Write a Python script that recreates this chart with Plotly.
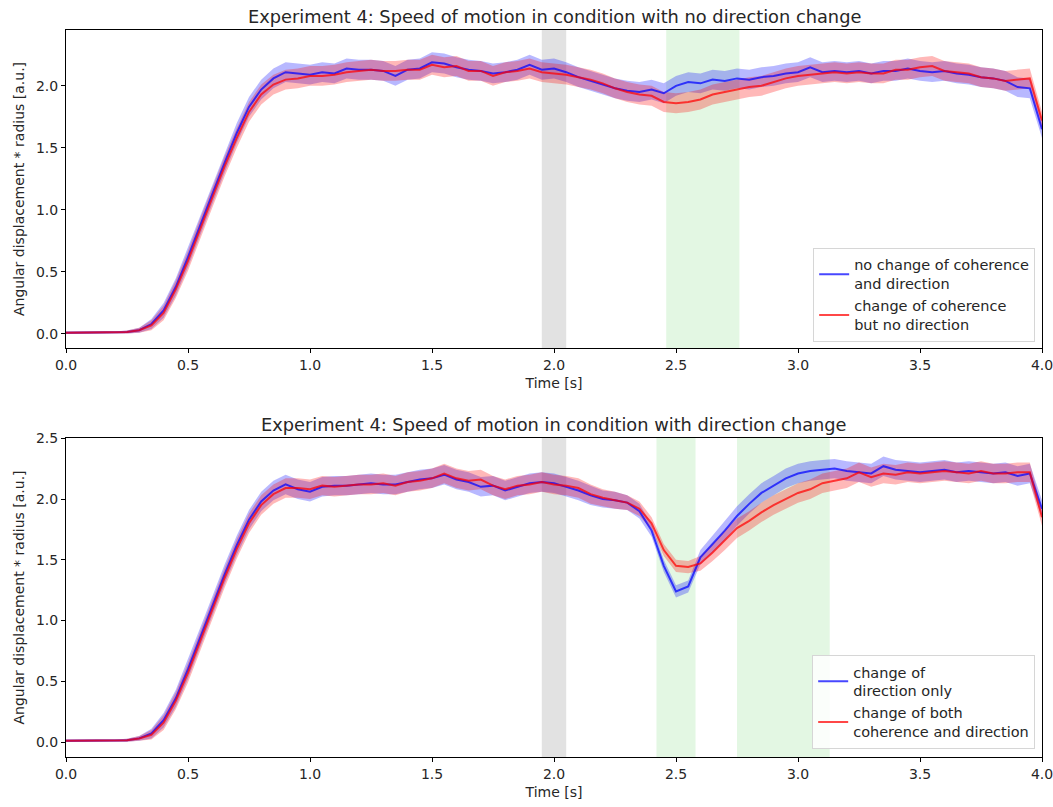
import plotly.graph_objects as go

# ---------------- data ----------------
time_s = [round(i * 0.05, 2) for i in range(81)]

top_no_change = [0.01, 0.01, 0.01, 0.01, 0.01, 0.015, 0.03, 0.08, 0.19, 0.38,
                 0.62, 0.88, 1.13, 1.38, 1.62, 1.83, 1.97, 2.06, 2.11, 2.10,
                 2.09, 2.11, 2.10, 2.14, 2.13, 2.13, 2.12, 2.08, 2.13, 2.14,
                 2.19, 2.18, 2.15, 2.13, 2.12, 2.10, 2.11, 2.13, 2.17, 2.13,
                 2.14, 2.11, 2.07, 2.04, 2.01, 1.98, 1.96, 1.95, 1.97, 1.94,
                 2.00, 2.03, 2.02, 2.05, 2.04, 2.06, 2.05, 2.07, 2.08, 2.10,
                 2.11, 2.15, 2.11, 2.12, 2.11, 2.12, 2.10, 2.12, 2.12, 2.14,
                 2.12, 2.11, 2.12, 2.10, 2.09, 2.07, 2.06, 2.04, 1.99, 1.98,
                 1.65]
top_coh_change = [0.01, 0.01, 0.01, 0.01, 0.01, 0.015, 0.03, 0.07, 0.17, 0.36,
                  0.59, 0.85, 1.10, 1.35, 1.58, 1.79, 1.93, 2.01, 2.05, 2.06,
                  2.08, 2.08, 2.09, 2.11, 2.12, 2.13, 2.12, 2.12, 2.13, 2.13,
                  2.17, 2.15, 2.16, 2.12, 2.12, 2.08, 2.11, 2.12, 2.14, 2.11,
                  2.10, 2.09, 2.07, 2.05, 2.02, 1.98, 1.95, 1.93, 1.92, 1.87,
                  1.86, 1.87, 1.89, 1.93, 1.95, 1.97, 1.99, 2.00, 2.03, 2.06,
                  2.08, 2.09, 2.10, 2.11, 2.10, 2.11, 2.10, 2.10, 2.13, 2.13,
                  2.15, 2.16, 2.12, 2.11, 2.10, 2.07, 2.06, 2.04, 2.05, 2.06,
                  1.72]
top_std = [0.01, 0.01, 0.01, 0.01, 0.01, 0.012, 0.02, 0.04, 0.06, 0.07,
           0.08, 0.08, 0.08, 0.08, 0.08, 0.08, 0.08, 0.08, 0.08, 0.08,
           0.08, 0.08, 0.08, 0.08, 0.08, 0.08, 0.08, 0.08, 0.08, 0.08,
           0.08, 0.08, 0.08, 0.08, 0.08, 0.08, 0.08, 0.08, 0.08, 0.08,
           0.08, 0.08, 0.08, 0.08, 0.08, 0.08, 0.08, 0.08, 0.08, 0.08,
           0.08, 0.08, 0.08, 0.08, 0.08, 0.08, 0.08, 0.08, 0.08, 0.08,
           0.08, 0.08, 0.08, 0.08, 0.08, 0.08, 0.08, 0.08, 0.08, 0.08,
           0.08, 0.08, 0.08, 0.08, 0.08, 0.08, 0.08, 0.08, 0.08, 0.08,
           0.07]

bot_dir_only = [0.01, 0.01, 0.01, 0.01, 0.01, 0.015, 0.03, 0.07, 0.18, 0.36,
                0.60, 0.86, 1.12, 1.38, 1.62, 1.83, 1.98, 2.07, 2.12, 2.08,
                2.06, 2.10, 2.11, 2.11, 2.12, 2.13, 2.12, 2.12, 2.14, 2.16,
                2.17, 2.20, 2.16, 2.14, 2.10, 2.11, 2.07, 2.10, 2.13, 2.14,
                2.13, 2.10, 2.07, 2.03, 2.00, 1.99, 1.97, 1.90, 1.74, 1.45,
                1.24, 1.28, 1.52, 1.63, 1.74, 1.86, 1.96, 2.05, 2.11, 2.17,
                2.21, 2.23, 2.24, 2.25, 2.23, 2.22, 2.21, 2.27, 2.24, 2.23,
                2.22, 2.23, 2.24, 2.22, 2.23, 2.22, 2.21, 2.22, 2.19, 2.21,
                1.92]
bot_both = [0.01, 0.01, 0.01, 0.01, 0.01, 0.015, 0.03, 0.06, 0.16, 0.34,
            0.57, 0.83, 1.09, 1.35, 1.59, 1.80, 1.95, 2.04, 2.09, 2.09,
            2.08, 2.11, 2.10, 2.11, 2.12, 2.12, 2.13, 2.11, 2.14, 2.15,
            2.17, 2.21, 2.17, 2.15, 2.16, 2.11, 2.08, 2.11, 2.12, 2.14,
            2.12, 2.11, 2.09, 2.04, 2.01, 1.99, 1.97, 1.92, 1.80, 1.58,
            1.45, 1.44, 1.47, 1.56, 1.66, 1.76, 1.82, 1.89, 1.95, 2.00,
            2.05, 2.08, 2.13, 2.15, 2.17, 2.22, 2.18, 2.21, 2.20, 2.22,
            2.21, 2.22, 2.23, 2.22, 2.21, 2.23, 2.21, 2.21, 2.22, 2.22,
            1.85]
bot_std_dir = [0.01, 0.01, 0.01, 0.01, 0.01, 0.012, 0.02, 0.04, 0.06, 0.07,
               0.08, 0.08, 0.08, 0.08, 0.08, 0.08, 0.08, 0.08, 0.08, 0.08,
               0.08, 0.08, 0.08, 0.08, 0.08, 0.08, 0.08, 0.08, 0.08, 0.08,
               0.08, 0.08, 0.08, 0.08, 0.08, 0.08, 0.08, 0.08, 0.08, 0.08,
               0.08, 0.08, 0.08, 0.08, 0.07, 0.07, 0.06, 0.06, 0.05, 0.05,
               0.05, 0.05, 0.06, 0.07, 0.08, 0.08, 0.08, 0.08, 0.08, 0.08,
               0.08, 0.08, 0.08, 0.08, 0.08, 0.08, 0.08, 0.08, 0.08, 0.08,
               0.08, 0.08, 0.08, 0.08, 0.08, 0.08, 0.08, 0.08, 0.08, 0.08,
               0.07]
bot_std_both = [0.01, 0.01, 0.01, 0.01, 0.01, 0.012, 0.02, 0.04, 0.06, 0.07,
                0.08, 0.08, 0.08, 0.08, 0.08, 0.08, 0.08, 0.08, 0.08, 0.08,
                0.08, 0.08, 0.08, 0.08, 0.08, 0.08, 0.08, 0.08, 0.08, 0.08,
                0.08, 0.08, 0.08, 0.08, 0.08, 0.08, 0.08, 0.08, 0.08, 0.08,
                0.08, 0.08, 0.08, 0.08, 0.07, 0.07, 0.06, 0.06, 0.05, 0.05,
                0.05, 0.05, 0.06, 0.07, 0.08, 0.08, 0.08, 0.08, 0.08, 0.08,
                0.08, 0.08, 0.08, 0.08, 0.08, 0.08, 0.08, 0.08, 0.08, 0.08,
                0.08, 0.08, 0.08, 0.08, 0.08, 0.08, 0.08, 0.08, 0.08, 0.08,
                0.07]

top_gray_span = [1.95, 2.05]
top_green_spans = [[2.46, 2.76]]
bot_gray_span = [1.95, 2.05]
bot_green_spans = [[2.42, 2.58], [2.75, 3.13]]

titles = ["Experiment 4: Speed of motion in condition with no direction change",
          "Experiment 4: Speed of motion in condition with direction change"]
top_names = ["no change of coherence<br>and direction", "change of coherence<br>but no direction"]
bot_names = ["change of<br>direction only", "change of both<br>coherence and direction"]
x_ticks = [0.0, 0.5, 1.0, 1.5, 2.0, 2.5, 3.0, 3.5, 4.0]
top_y_ticks = [0.0, 0.5, 1.0, 1.5, 2.0]
bot_y_ticks = [0.0, 0.5, 1.0, 1.5, 2.0, 2.5]

# ---------------- figure ----------------
BLUE_LINE = "rgba(0,0,255,0.72)"
RED_LINE = "rgba(255,0,0,0.72)"
BLUE_FILL = "rgba(0,0,255,0.28)"
RED_FILL = "rgba(255,0,0,0.28)"
FONT = "DejaVu Sans"
TXT = "#262626"

fig = go.Figure()


def add_band(mean, std, fill_c, xa, ya):
    lower = [m - s for m, s in zip(mean, std)]
    upper = [m + s for m, s in zip(mean, std)]
    fig.add_trace(go.Scatter(x=time_s, y=lower, mode="lines", line=dict(width=0),
                             showlegend=False, hoverinfo="skip", xaxis=xa, yaxis=ya))
    fig.add_trace(go.Scatter(x=time_s, y=upper, mode="lines", line=dict(width=0),
                             fill="tonexty", fillcolor=fill_c, showlegend=False,
                             hoverinfo="skip", xaxis=xa, yaxis=ya))


add_band(top_no_change, top_std, BLUE_FILL, "x", "y")
add_band(top_coh_change, top_std, RED_FILL, "x", "y")
add_band(bot_dir_only, bot_std_dir, BLUE_FILL, "x2", "y2")
add_band(bot_both, bot_std_both, RED_FILL, "x2", "y2")

for mean, name, c, xa, ya, lg in [
    (top_no_change, top_names[0], BLUE_LINE, "x", "y", "legend"),
    (top_coh_change, top_names[1], RED_LINE, "x", "y", "legend"),
    (bot_dir_only, bot_names[0], BLUE_LINE, "x2", "y2", "legend2"),
    (bot_both, bot_names[1], RED_LINE, "x2", "y2", "legend2"),
]:
    fig.add_trace(go.Scatter(x=time_s, y=mean, mode="lines", name=name,
                             line=dict(color=c, width=2), xaxis=xa, yaxis=ya, legend=lg))


def add_span(x0, x1, color, xref, yref):
    fig.add_shape(type="rect", x0=x0, x1=x1, y0=0, y1=1, xref=xref, yref=yref,
                  fillcolor=color, line=dict(width=0), layer="below")


add_span(top_gray_span[0], top_gray_span[1], "#e2e2e2", "x", "y domain")
for s in top_green_spans:
    add_span(s[0], s[1], "#e3f7e3", "x", "y domain")
add_span(bot_gray_span[0], bot_gray_span[1], "#e2e2e2", "x2", "y2 domain")
for s in bot_green_spans:
    add_span(s[0], s[1], "#e3f7e3", "x2", "y2 domain")

axis_common = dict(showline=True, linecolor="black", linewidth=1, mirror=True,
                   ticks="outside", ticklen=4, tickcolor="black", showgrid=False,
                   zeroline=False, automargin=False, ticklabeloverflow="allow",
                   tickfont=dict(family=FONT, size=14, color=TXT))
xtitle = dict(text="Time [s]", font=dict(family=FONT, size=14, color=TXT), standoff=6)
ytitle = dict(text="Angular displacement * radius [a.u.]",
              font=dict(family=FONT, size=14, color=TXT), standoff=8)
legend_common = dict(xanchor="right", yanchor="bottom", traceorder="normal",
                     bgcolor="rgba(255,255,255,0.85)", bordercolor="#d6d6d6", borderwidth=1,
                     font=dict(family=FONT, size=14.5, color=TXT), tracegroupgap=0,
                     itemwidth=30)

fig.update_layout(
    width=1053, height=807,
    paper_bgcolor="white", plot_bgcolor="white",
    margin=dict(l=66, r=11, t=30, b=50),
    font=dict(family=FONT, size=14, color=TXT),
    xaxis=dict(domain=[0, 1], range=[0, 4], anchor="y", tickvals=x_ticks,
               ticktext=[f"{v:.1f}" for v in x_ticks], title=xtitle, **axis_common),
    yaxis=dict(domain=[0.5626, 1.0], range=[-0.113, 2.45], anchor="x", tickvals=top_y_ticks,
               ticktext=[f"{v:.1f}" for v in top_y_ticks], title=ytitle, **axis_common),
    xaxis2=dict(domain=[0, 1], range=[0, 4], anchor="y2", tickvals=x_ticks,
                ticktext=[f"{v:.1f}" for v in x_ticks], title=xtitle, **axis_common),
    yaxis2=dict(domain=[0.0, 0.4388], range=[-0.123, 2.502], anchor="x2", tickvals=bot_y_ticks,
                ticktext=[f"{v:.1f}" for v in bot_y_ticks], title=ytitle, **axis_common),
    legend=dict(x=0.993, y=0.571, **legend_common),
    legend2=dict(x=0.993, y=0.011, **legend_common),
    annotations=[
        dict(text=titles[0], x=0.5, y=1.0, xref="paper", yref="paper", xanchor="center",
             yanchor="bottom", yshift=1, showarrow=False,
             font=dict(family=FONT, size=17.8, color=TXT)),
        dict(text=titles[1], x=0.5, y=0.4388, xref="paper", yref="paper", xanchor="center",
             yanchor="bottom", yshift=1, showarrow=False,
             font=dict(family=FONT, size=17.8, color=TXT)),
    ],
)

fig.write_html("out.html", config={"displayModeBar": False},
               post_script="document.body.style.margin='0';document.body.style.overflow='hidden';")
